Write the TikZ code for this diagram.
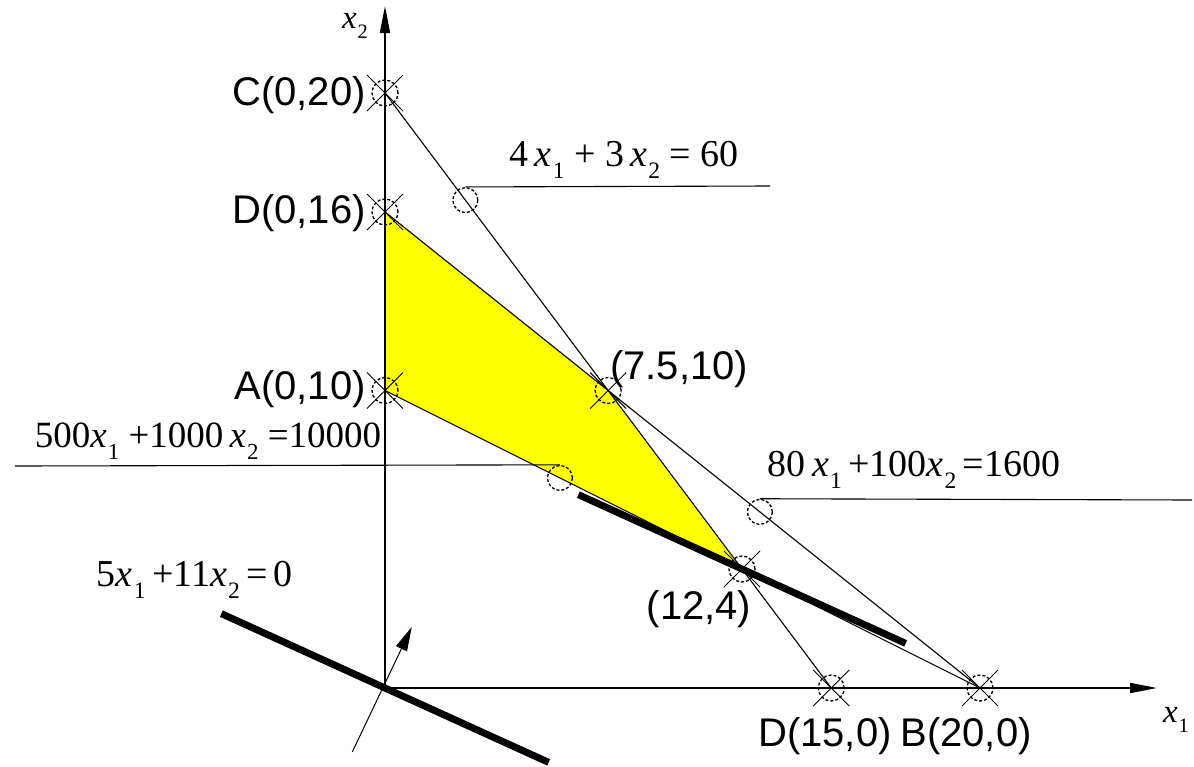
\documentclass[tikz,border=0pt]{standalone}
\usepackage{fontspec}
\usepackage{graphicx}
\setmainfont{Liberation Serif}
\newfontfamily\arialf{Liberation Sans}
\usetikzlibrary{arrows.meta,calc}
\definecolor{feasy}{RGB}{255,255,0}
\newcommand{\vx}[1]{\textit{x}\kern0.03em\raisebox{-0.32em}{\scalebox{0.62}{#1}}}
\newcommand{\mymark}[1]{%
  \draw[markcirc] (#1) circle[radius=13pt];
  \draw[markx] ($(#1)+(-18pt,-18pt)$) -- ($(#1)+(18pt,18pt)$);
  \draw[markx] ($(#1)+(-18pt,18pt)$) -- ($(#1)+(18pt,-18pt)$);}
\begin{document}
\begin{tikzpicture}[x=1pt,y=-1pt,
  thinl/.style={line width=1.1pt},
  axisl/.style={line width=1.8pt,-{Triangle[length=27pt,width=10pt]}},
  objl/.style={line width=7pt},
  normall/.style={line width=1pt,-{Triangle[length=24pt,width=12pt]}},
  markcirc/.style={line width=1.3pt,dash pattern=on 3pt off 2pt},
  markx/.style={line width=0.9pt},
  ptlab/.style={font=\arialf\fontsize{40}{44}\selectfont,inner sep=0pt},
  eqlab/.style={inner sep=0pt},
  leadc/.style={circle,draw,line width=1.3pt,dash pattern=on 3pt off 2pt,minimum size=25pt,inner sep=0pt}]
\useasboundingbox (0,0) rectangle (1194,766);
\begin{scope}[shift={(385pt,-688pt)},x=29.75pt,y=29.75pt]
  \coordinate (O) at (0,0);
  \coordinate (C) at (0,20);
  \coordinate (D16) at (0,16);
  \coordinate (A) at (0,10);
  \coordinate (P) at (7.5,10);
  \coordinate (Q) at (12,4);
  \coordinate (D15) at (15,0);
  \coordinate (B) at (20,0);
  \coordinate (o1) at (-5.5,2.5);
  \coordinate (o2) at (5.5,-2.5);
  \coordinate (q1) at (6.5,6.5);
  \coordinate (q2) at (17.5,1.5);
  \coordinate (n1) at (-1.1,-2.15);
  \coordinate (n2) at (0.9,2.05);
\end{scope}
\coordinate (xend) at (1157,688);
\coordinate (yend) at (385,6);
% feasible region
\fill[feasy] (D16) -- (P) -- (Q) -- (A) -- cycle;
% constraint lines
\draw[thinl] (C) -- (D15);
\draw[thinl] (D16) -- (B);
\draw[thinl] (A) -- (B);
% axes
\draw[axisl] (O) -- (xend);
\draw[axisl] (O) -- (yend);
% objective lines
\draw[objl] (o1) -- (o2);
\draw[objl] (q1) -- (q2);
\draw[normall] (n1) -- (n2);
% markers
\mymark{C}
\mymark{D16}
\mymark{A}
\mymark{P}
\mymark{Q}
\mymark{D15}
\mymark{B}
% leader circles and lines
\node[leadc] (L1) at ($(C)!0.18!(D15)$) {};
\node[leadc] (L2) at ($(A)!0.294!(B)$) {};
\node[leadc] (L3) at ($(D16)!0.63!(B)$) {};
\coordinate (L1e) at (770,186);
\coordinate (L2e) at (15,466);
\coordinate (L3e) at (1192,500);
\draw[thinl] (L1.north) -- (L1e);
\draw[thinl] (L2.north) -- (L2e);
\draw[thinl] (L3.north) -- (L3e);
% point labels
\node[ptlab,anchor=east] (tC) at (366,95) {C(0,20)};
\node[ptlab,anchor=east] (tD16) at (366,213) {D(0,16)};
\node[ptlab,anchor=east] (tA) at (366,389) {A(0,10)};
\node[ptlab,anchor=west] (tP) at (610,369) {(7.5,10)};
\node[ptlab] (tQ) at (699,609) {(12,4)};
\node[ptlab] (tD15) at (825,736) {D(15,0)};
\node[ptlab] (tB) at (966,736) {B(20,0)};
% equation labels
\node[eqlab,font=\fontsize{38}{42}\selectfont] (e1) at (624,160) {4\,\vx{1} + 3\,\vx{2} = 60};
\node[eqlab,font=\fontsize{37}{42}\selectfont] (e2) at (208,441) {500\vx{1} +1000\,\vx{2} =10000};
\node[eqlab,font=\fontsize{38}{42}\selectfont] (e3) at (914,470) {80\,\vx{1}\,+100\vx{2}\,=1600};
\node[eqlab,font=\fontsize{38}{42}\selectfont] (e4) at (195,580) {5\vx{1}\,+11\vx{2}\,=\,0};
% axis labels
\node[eqlab,font=\fontsize{33}{36}\selectfont] (lx2) at (355,26) {\vx{2}};
\node[eqlab,font=\fontsize{33}{36}\selectfont] (lx1) at (1176,720) {\vx{1}};
\end{tikzpicture}
\end{document}
